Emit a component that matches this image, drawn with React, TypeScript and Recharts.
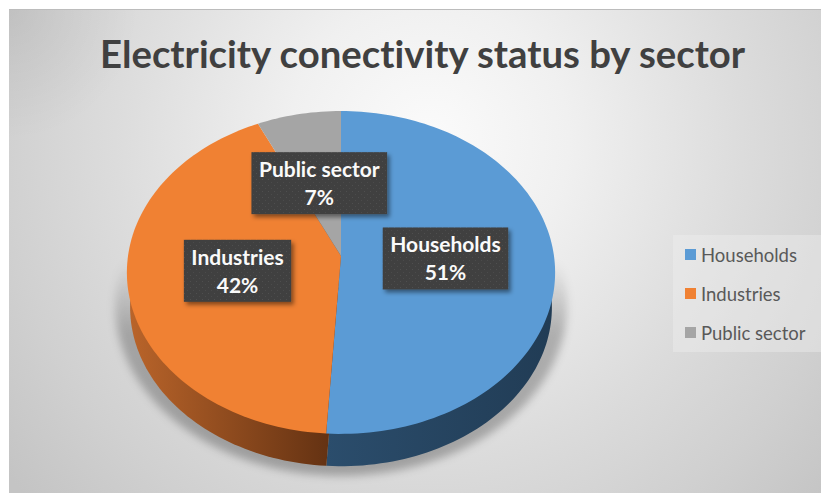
import React from "react";
import { PieChart, Pie, Cell, Legend } from "recharts";

const categories = ["Households", "Industries", "Public sector"];
const shares = [51, 42, 7];
const topColors = ["#5b9bd5", "#f08133", "#a5a5a5"];
const wallStart = ["#2b4d6c", "#b9642a", "#6b6b6b"];
const wallEnd = ["#213c55", "#5f2f11", "#555555"];
const chartTitle = "Electricity conectivity status by sector";

const W = 812;
const H = 484;
const CX = 332;
const CY = 246;
const RADIUS = 213;
const TILT = 0.75;
const PERSPECTIVE = 0.102;

const sliceData = categories.map((name, i) => ({ name, value: shares[i] }));
const floorData = [{ name: "floor", value: shares.reduce((a, b) => a + b, 0) }];

const RAD = Math.PI / 180;

// Projects a point of the tilted disc (angle in degrees, radius as a fraction) onto the page.
function project(cx: number, cy: number, R: number, frac: number, deg: number) {
  const u = Math.cos(deg * RAD) * frac;
  const v = Math.sin(deg * RAD) * frac;
  const w = 1 + PERSPECTIVE * v;
  return { x: cx + (R * u) / w, y: cy - (R * TILT * v) / w };
}

function wedgePath(cx: number, cy: number, R: number, start: number, end: number) {
  const steps = Math.max(8, Math.ceil(Math.abs(end - start) / 1.5));
  let d = `M${cx},${cy}`;
  for (let i = 0; i <= steps; i++) {
    const p = project(cx, cy, R, 1, start + ((end - start) * i) / steps);
    d += `L${p.x.toFixed(2)},${p.y.toFixed(2)}`;
  }
  return d + "Z";
}

const TopSlice = (props: any) => (
  <path d={wedgePath(props.cx, props.cy, props.outerRadius, props.startAngle, props.endAngle)} fill={props.fill} />
);

// The side of the disc: the same wedge, slightly smaller and pushed down the page.
const WallSlice = (props: any) => {
  const id = `wall-${props.index}`;
  return (
    <g>
      <defs>
        <linearGradient id={id} x1="0" y1="0" x2="1" y2="0">
          <stop offset="0%" stopColor={wallStart[props.index]} />
          <stop offset="100%" stopColor={wallEnd[props.index]} />
        </linearGradient>
      </defs>
      <path
        d={wedgePath(props.cx, props.cy + 35, props.outerRadius * 0.985, props.startAngle, props.endAngle)}
        fill={`url(#${id})`}
      />
    </g>
  );
};

const FloorShadow = (props: any) => (
  <g>
    <defs>
      <linearGradient id="floorFade" x1="0" y1="0" x2="0" y2="1">
        <stop offset="0%" stopColor="#000" stopOpacity={0} />
        <stop offset="37%" stopColor="#000" stopOpacity={0} />
        <stop offset="58%" stopColor="#000" stopOpacity={0.24} />
        <stop offset="100%" stopColor="#000" stopOpacity={0.27} />
      </linearGradient>
      <filter id="floorBlur" x="-10%" y="-10%" width="120%" height="120%">
        <feGaussianBlur stdDeviation="4" />
      </filter>
    </defs>
    <path
      d={wedgePath(props.cx, props.cy + 32, props.outerRadius * 1.055, 90, -269.9)}
      fill="url(#floorFade)"
      filter="url(#floorBlur)"
    />
  </g>
);

function textWidth(text: string, font: string) {
  const ctx = document.createElement("canvas").getContext("2d");
  if (!ctx) return text.length * 10;
  ctx.font = font;
  return ctx.measureText(text).width;
}

const LABEL_FONT_SIZE = 21;

const SliceLabel = (props: any) => {
  const { cx, cy, midAngle, outerRadius, name, percent, index } = props;
  const c = project(cx, cy, outerRadius, 0.49, midAngle);
  const boxW = textWidth(name, `700 ${LABEL_FONT_SIZE}px Lato`) + 15;
  const boxH = 62;
  const pat = `labelDots-${index}`;
  const shadow = `labelShadow-${index}`;
  return (
    <g>
      <defs>
        <pattern id={pat} width="6" height="6" patternUnits="userSpaceOnUse">
          <rect width="6" height="6" fill="#3f3f3f" />
          <rect x="1" y="1" width="1" height="1" fill="#505050" />
          <rect x="4" y="4" width="1" height="1" fill="#4c4c4c" />
        </pattern>
        <filter id={shadow} x="-15%" y="-20%" width="130%" height="150%">
          <feDropShadow dx="2.5" dy="3" stdDeviation="2" floodColor="#000" floodOpacity="0.45" />
        </filter>
      </defs>
      <rect x={c.x - boxW / 2} y={c.y - boxH / 2} width={boxW} height={boxH} fill={`url(#${pat})`} filter={`url(#${shadow})`} />
      <text
        x={c.x}
        textAnchor="middle"
        fill="#fafafa"
        fontFamily="Lato"
        fontWeight={700}
        fontSize={LABEL_FONT_SIZE}
        style={{ fontVariantLigatures: "none" }}
      >
        <tspan x={c.x} y={c.y - 6}>{name}</tspan>
        <tspan x={c.x} y={c.y + 22}>{`${Math.round(percent * 100)}%`}</tspan>
      </text>
    </g>
  );
};

// Only the coloured top slices get a row; the wall and floor layers share their names.
const LegendBox = ({ payload }: any) => (
  <div style={{ width: 148, height: 117, background: "rgba(240,240,240,0.4)", boxSizing: "border-box" }}>
    {(payload || [])
      .filter((entry: any) => topColors.includes(entry.color))
      .map((entry: any) => (
        <div key={entry.value} style={{ display: "flex", alignItems: "center", height: 39, paddingLeft: 12 }}>
          <span style={{ width: 11, height: 11, background: entry.color, marginRight: 5 }} />
          <span style={{ fontFamily: "Lato", fontSize: 18.5, color: "#595959", whiteSpace: "nowrap" }}>{entry.value}</span>
        </div>
      ))}
  </div>
);

export default function App() {
  return (
    <div
      style={{
        position: "absolute",
        left: 9,
        top: 9,
        width: W,
        height: H,
        borderTop: "1px solid #bcbcbc",
        boxSizing: "border-box",
        background:
          "radial-gradient(circle 130px at 0px 0px, rgba(0,0,0,0.07), rgba(0,0,0,0)), " +
          "radial-gradient(circle 560px at 420px 130px, #fbfbfb 0%, #f0f0f0 25%, #dcdcdc 56%, #d0d0d0 77%, #c4c4c4 96%)",
      }}
    >
      <PieChart width={W} height={H - 1} margin={{ top: 0, right: 0, bottom: 0, left: 0 }}>
        <text
          x={413.5}
          y={58}
          textAnchor="middle"
          fill="#404040"
          fontFamily="Lato"
          fontWeight={700}
          fontSize={38.3}
          style={{ fontVariantLigatures: "none" }}
        >
          {chartTitle}
        </text>
        <Pie
          data={floorData}
          dataKey="value"
          cx={CX}
          cy={CY}
          outerRadius={RADIUS}
          startAngle={90}
          endAngle={-270}
          stroke="none"
          legendType="none"
          isAnimationActive={false}
          shape={FloorShadow}
        />
        <Pie
          data={sliceData}
          dataKey="value"
          nameKey="name"
          cx={CX}
          cy={CY}
          outerRadius={RADIUS}
          startAngle={90}
          endAngle={-270}
          stroke="none"
          legendType="none"
          isAnimationActive={false}
          shape={WallSlice}
        />
        <Pie
          data={sliceData}
          dataKey="value"
          nameKey="name"
          cx={CX}
          cy={CY}
          outerRadius={RADIUS}
          startAngle={90}
          endAngle={-270}
          stroke="none"
          isAnimationActive={false}
          shape={TopSlice}
          label={SliceLabel}
          labelLine={false}
        >
          {sliceData.map((d, i) => (
            <Cell key={d.name} fill={topColors[i]} />
          ))}
        </Pie>
        <Legend
          content={LegendBox}
          wrapperStyle={{ position: "absolute", left: 664, top: 225, width: 148, height: 117 }}
        />
      </PieChart>
    </div>
  );
}
